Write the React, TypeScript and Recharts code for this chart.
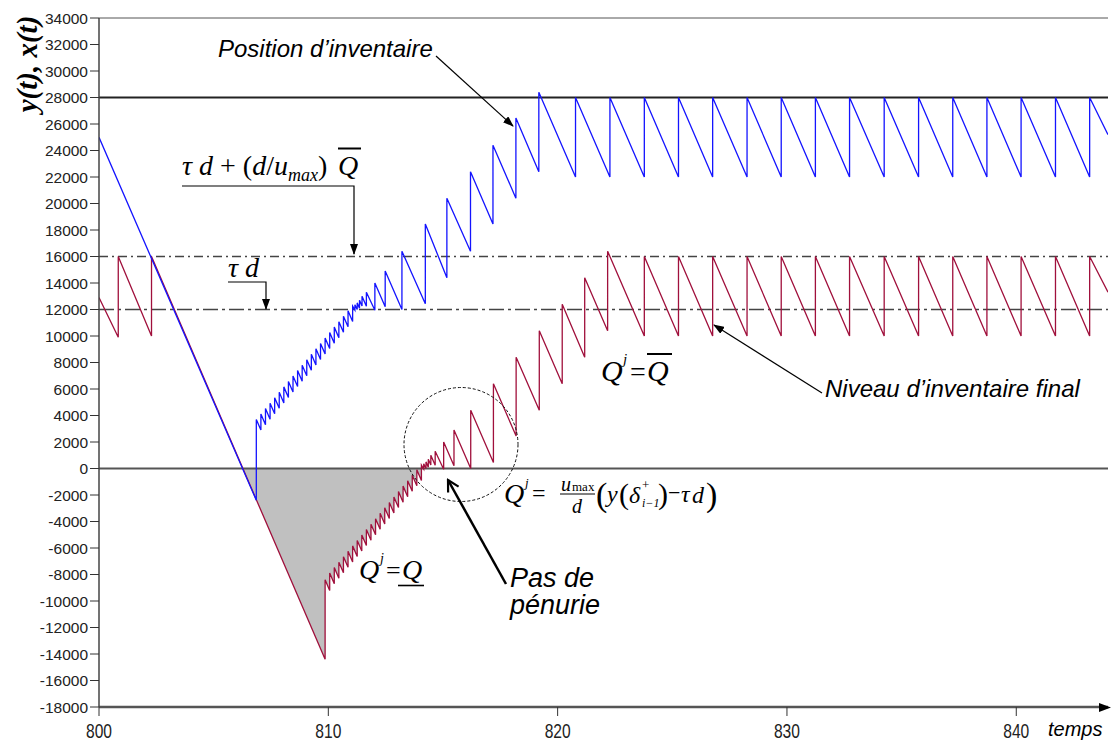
import React from 'react'
import {
  ComposedChart,
  Line,
  Area,
  XAxis,
  YAxis,
  ReferenceLine,
} from 'recharts'

// y(t): position d'inventaire (blue)
const positionPoints: [number, number][] = [
  [800, 25000], [806.86, -2400], [806.86, 3700],
  [807.06, 2900], [807.06, 4110],
  [807.26, 3310], [807.26, 4520],
  [807.46, 3720], [807.46, 4930],
  [807.66, 4130], [807.66, 5340],
  [807.86, 4540], [807.86, 5750],
  [808.06, 4950], [808.06, 6160],
  [808.26, 5360], [808.26, 6570],
  [808.46, 5770], [808.46, 6980],
  [808.66, 6180], [808.66, 7390],
  [808.86, 6590], [808.86, 7800],
  [809.06, 7000], [809.06, 8210],
  [809.26, 7410], [809.26, 8620],
  [809.46, 7820], [809.46, 9030],
  [809.66, 8230], [809.66, 9440],
  [809.86, 8640], [809.86, 9850],
  [810.06, 9050], [810.06, 10260],
  [810.26, 9460], [810.26, 10670],
  [810.46, 9870], [810.46, 11080],
  [810.66, 10280], [810.66, 11490],
  [810.86, 10690], [810.86, 11900],
  [811.06, 11100], [811.06, 12250],
  [811.16, 11950], [811.16, 12350],
  [811.26, 12000], [811.26, 12500],
  [811.36, 12100], [811.36, 12700],
  [811.47, 12260], [811.47, 13000],
  [811.66, 12240], [811.66, 13300],
  [812.03, 11950], [812.03, 14000],
  [812.48, 12200], [812.48, 14900],
  [813.21, 12000], [813.21, 16400],
  [814.23, 12430], [814.23, 18450],
  [815.17, 14400], [815.17, 20400],
  [816.2, 16400], [816.2, 22400],
  [817.18, 18450], [817.18, 24400],
  [818.18, 20400], [818.18, 26450],
  [819.18, 22400], [819.18, 28400],
  [820.78, 22000], [820.78, 28000],
  [822.28, 22000], [822.28, 28000],
  [823.78, 22000], [823.78, 28000],
  [825.27, 22000], [825.27, 28000],
  [826.76, 22000], [826.76, 28000],
  [828.26, 22000], [828.26, 28000],
  [829.75, 22000], [829.75, 28000],
  [831.24, 22000], [831.24, 28000],
  [832.73, 22000], [832.73, 28000],
  [834.24, 22000], [834.24, 28000],
  [835.74, 22000], [835.74, 28000],
  [837.23, 22000], [837.23, 28000],
  [838.72, 22000], [838.72, 28000],
  [840.21, 22000], [840.21, 28000],
  [841.71, 22000], [841.71, 28000],
  [843.2, 22000], [843.2, 28000],
  [844, 25200],
]

// x(t): niveau d'inventaire final (red)
const levelPoints: [number, number][] = [
  [800, 12900], [800.84, 9900], [800.84, 16000],
  [802.29, 10000], [802.29, 16000],
  [809.86, -14400], [809.86, -8400],
  [810.06, -9200], [810.06, -7890],
  [810.26, -8690], [810.26, -7480],
  [810.46, -8280], [810.46, -7070],
  [810.66, -7870], [810.66, -6660],
  [810.86, -7460], [810.86, -6250],
  [811.06, -7050], [811.06, -5840],
  [811.26, -6640], [811.26, -5430],
  [811.46, -6230], [811.46, -5020],
  [811.66, -5820], [811.66, -4610],
  [811.86, -5410], [811.86, -4200],
  [812.06, -5000], [812.06, -3790],
  [812.26, -4590], [812.26, -3380],
  [812.46, -4180], [812.46, -2970],
  [812.66, -3770], [812.66, -2560],
  [812.86, -3360], [812.86, -2150],
  [813.06, -2950], [813.06, -1740],
  [813.26, -2540], [813.26, -1330],
  [813.46, -2130], [813.46, -920],
  [813.66, -1720], [813.66, -510],
  [813.86, -1310], [813.86, -100],
  [814.06, -900], [814.06, 250],
  [814.16, -50], [814.16, 350],
  [814.26, 0], [814.26, 500],
  [814.36, 100], [814.36, 700],
  [814.47, 260], [814.47, 1000],
  [814.66, 240], [814.66, 1300],
  [815.03, -50], [815.03, 2000],
  [815.48, 200], [815.48, 2900],
  [816.21, 0], [816.21, 4400],
  [817.2, 450], [817.2, 6400],
  [818.19, 2450], [818.19, 8400],
  [819.2, 4400], [819.2, 10400],
  [820.2, 6400], [820.2, 12400],
  [821.18, 8400], [821.18, 14400],
  [822.18, 10400], [822.18, 16400],
  [823.78, 10000], [823.78, 16000],
  [825.27, 10000], [825.27, 16000],
  [826.76, 10000], [826.76, 16000],
  [828.26, 10000], [828.26, 16000],
  [829.75, 10000], [829.75, 16000],
  [831.24, 10000], [831.24, 16000],
  [832.73, 10000], [832.73, 16000],
  [834.24, 10000], [834.24, 16000],
  [835.74, 10000], [835.74, 16000],
  [837.23, 10000], [837.23, 16000],
  [838.72, 10000], [838.72, 16000],
  [840.21, 10000], [840.21, 16000],
  [841.71, 10000], [841.71, 16000],
  [843.2, 10000], [843.2, 16000],
  [844, 13300],
]

const shortageStart = 806.27
const shortageEnd = 814.06

const xTicks = [800, 810, 820, 830, 840]
const yTicks = [
  -18000, -16000, -14000, -12000, -10000, -8000, -6000, -4000, -2000, 0,
  2000, 4000, 6000, 8000, 10000, 12000, 14000, 16000, 18000, 20000, 22000,
  24000, 26000, 28000, 30000, 32000, 34000,
]

const positionMax = 28000
const reorderHigh = 16000 // tau d + (d/umax) Qbar
const reorderLow = 12000 // tau d

const toRows = (pts: [number, number][]) => pts.map(([t, v]) => ({ t, v }))

const positionData = toRows(positionPoints)
const levelData = toRows(levelPoints)
const shortageData = toRows([
  [shortageStart, 0],
  ...levelPoints
    .filter(([t]) => t >= 809.86 && t <= shortageEnd)
    .map(([t, v]) => [t, Math.min(v, 0)] as [number, number]),
  [shortageEnd, 0],
])

const SANS = "'Liberation Sans', Arial, sans-serif"
const SERIF = "'Liberation Serif', 'Times New Roman', serif"

// narrow, tall tick labels under the time axis
function TimeTick({ x, y, payload }: any) {
  return (
    <g transform={`translate(${x},${y})`}>
      <text
        transform="scale(0.78,1)"
        textAnchor="middle"
        dy="0.71em"
        fontSize={20}
        fontFamily={SANS}
        fill="#222"
      >
        {payload.value}
      </text>
    </g>
  )
}

function Annotations() {
  return (
    <svg
      width={1111}
      height={743}
      style={{ position: 'absolute', left: 0, top: 0, pointerEvents: 'none' }}
    >
      <defs>
        <marker id="ah" markerWidth="11" markerHeight="8" refX="10" refY="4" orient="auto" markerUnits="userSpaceOnUse">
          <path d="M0,0 L11,4 L0,8 z" fill="#000" />
        </marker>
        <marker id="open" markerWidth="14" markerHeight="14" refX="12" refY="7" orient="auto" markerUnits="userSpaceOnUse">
          <path d="M1,1 L12,7 L1,13" fill="none" stroke="#000" strokeWidth="2.2" />
        </marker>
      </defs>

      {/* y axis label */}
      <text
        transform="translate(37,64) rotate(-90)"
        textAnchor="middle"
        fontFamily={SERIF}
        fontWeight="bold"
        fontStyle="italic"
        fontSize={29}
        fill="#000"
      >
        y(t), x(t)
      </text>

      {/* x axis arrow + label */}
      <path d="M1099,703 L1111,707.5 L1099,712 z" fill="#000" />
      <text x={1048} y={736} fontFamily={SANS} fontStyle="italic" fontSize={20} fill="#000">
        temps
      </text>

      {/* Position d'inventaire */}
      <text x={218} y={57} fontFamily={SANS} fontStyle="italic" fontSize={24} fill="#000">
        Position d’inventaire
      </text>
      <line x1={436} y1={56} x2={513} y2={126} stroke="#000" strokeWidth={1.2} markerEnd="url(#ah)" />

      {/* tau d + (d/umax) Qbar */}
      <text x={182} y={175} fontFamily={SERIF} fontSize={28} fill="#000">
        <tspan fontStyle="italic">τ d</tspan> + (<tspan fontStyle="italic">d</tspan>/<tspan fontStyle="italic">u</tspan>
        <tspan fontStyle="italic" fontSize={18} dy={6}>max</tspan>
        <tspan dy={-6}>)</tspan>
      </text>
      <text x={338} y={175} fontFamily={SERIF} fontStyle="italic" fontSize={28} fill="#000">Q</text>
      <line x1={338} x2={361} y1={148.5} y2={148.5} stroke="#000" strokeWidth={2} />
      <polyline points="182,186 354,186 354,254" fill="none" stroke="#000" strokeWidth={1.2} markerEnd="url(#ah)" />

      {/* tau d */}
      <text x={228} y={277} fontFamily={SERIF} fontStyle="italic" fontSize={28} fill="#000">τ d</text>
      <polyline points="228,282 266,282 266,309" fill="none" stroke="#000" strokeWidth={1.2} markerEnd="url(#ah)" />

      {/* Q^j = Qbar */}
      <text x={601} y={381} fontFamily={SERIF} fontStyle="italic" fontSize={30} fill="#000">Q</text>
      <text x={623} y={364} fontFamily={SERIF} fontStyle="italic" fontSize={15} fill="#000">j</text>
      <text x={630} y={381} fontFamily={SERIF} fontSize={28} fill="#000">=</text>
      <text x={647} y={381} fontFamily={SERIF} fontStyle="italic" fontSize={30} fill="#000">Q</text>
      <line x1={647} x2={672} y1={354} y2={354} stroke="#000" strokeWidth={2} />

      {/* Niveau d'inventaire final */}
      <text x={825} y={397} fontFamily={SANS} fontStyle="italic" fontSize={24} fill="#000">
        Niveau d’inventaire final
      </text>
      <line x1={822} y1={393} x2={714} y2={325} stroke="#000" strokeWidth={1.2} markerEnd="url(#ah)" />

      {/* dashed circle */}
      <circle cx={461} cy={444.5} r={57} fill="none" stroke="#111" strokeWidth={1} strokeDasharray="3 2" />

      {/* Q^j = umax/d (y(delta) - tau d) */}
      <text x={504} y={503} fontFamily={SERIF} fontStyle="italic" fontSize={28} fill="#000">Q</text>
      <text x={525} y={487} fontFamily={SERIF} fontStyle="italic" fontSize={13} fill="#000">j</text>
      <text x={532} y={501} fontFamily={SERIF} fontSize={24} fill="#000">=</text>
      <text x={561} y={491} fontFamily={SERIF} fontStyle="italic" fontSize={20} fill="#000">u</text>
      <text x={572} y={491} fontFamily={SERIF} fontSize={13} fill="#000">max</text>
      <line x1={560} x2={595} y1={494} y2={494} stroke="#000" strokeWidth={1} />
      <text x={572} y={513} fontFamily={SERIF} fontStyle="italic" fontSize={20} fill="#000">d</text>
      <text x={596} y={506} fontFamily={SERIF} fontSize={34} fill="#000">(</text>
      <text x={607} y={502} fontFamily={SERIF} fontStyle="italic" fontSize={24} fill="#000">y</text>
      <text x={619} y={504} fontFamily={SERIF} fontSize={30} fill="#000">(</text>
      <text x={629} y={503} fontFamily={SERIF} fontStyle="italic" fontSize={24} fill="#000">δ</text>
      <text x={642} y={489} fontFamily={SERIF} fontSize={13} fill="#000">+</text>
      <text x={642} y={507} fontFamily={SERIF} fontStyle="italic" fontSize={12} fill="#000">i−1</text>
      <text x={658} y={504} fontFamily={SERIF} fontSize={30} fill="#000">)</text>
      <text x={668} y={500} fontFamily={SERIF} fontSize={22} fill="#000">−</text>
      <text x={681} y={502} fontFamily={SERIF} fontStyle="italic" fontSize={24} fill="#000">τ</text>
      <text x={692} y={503} fontFamily={SERIF} fontStyle="italic" fontSize={24} fill="#000">d</text>
      <text x={706} y={506} fontFamily={SERIF} fontSize={34} fill="#000">)</text>

      {/* Pas de penurie */}
      <text x={510} y={587} fontFamily={SANS} fontStyle="italic" fontSize={27} fill="#000">Pas de</text>
      <text x={510} y={614} fontFamily={SANS} fontStyle="italic" fontSize={27} fill="#000">pénurie</text>
      <line x1={506} y1={584} x2={448} y2={480} stroke="#000" strokeWidth={2.5} markerEnd="url(#open)" />

      {/* Q^j = Q underline */}
      <text x={359} y={579} fontFamily={SERIF} fontStyle="italic" fontSize={28} fill="#000">Q</text>
      <text x={380} y={563} fontFamily={SERIF} fontStyle="italic" fontSize={14} fill="#000">j</text>
      <text x={386} y={579} fontFamily={SERIF} fontSize={26} fill="#000">=</text>
      <text x={402} y={579} fontFamily={SERIF} fontStyle="italic" fontSize={28} fill="#000">Q</text>
      <line x1={398} x2={424} y1={585.5} y2={585.5} stroke="#000" strokeWidth={1.6} />
    </svg>
  )
}

export default function App() {
  return (
    <div style={{ position: 'absolute', left: 0, top: 0, width: 1111, height: 743, background: '#fff' }}>
      <ComposedChart
        width={1111}
        height={743}
        margin={{ top: 18, right: 3, bottom: 0, left: 0 }}
      >
        <XAxis
          type="number"
          dataKey="t"
          domain={[800, 844]}
          allowDataOverflow
          ticks={xTicks}
          interval={0}
          tickSize={9}
          tickMargin={8}
          height={36}
          stroke="#555"
          strokeWidth={2.5}
          tickLine={{ stroke: '#333', strokeWidth: 1 }}
          tick={<TimeTick />}
        />
        <YAxis
          type="number"
          domain={[-18000, 34000]}
          allowDataOverflow
          ticks={yTicks}
          interval={0}
          width={99}
          tickSize={9}
          tickMargin={2}
          stroke="#444"
          strokeWidth={1.5}
          tickLine={{ stroke: '#333', strokeWidth: 1 }}
          tick={{ fill: '#222', fontSize: 15.5, fontFamily: SANS }}
        />
        <Area
          data={shortageData}
          dataKey="v"
          type="linear"
          stroke="none"
          fill="#c0c0c0"
          fillOpacity={1}
          baseValue={0}
          isAnimationActive={false}
        />
        <ReferenceLine y={34000} stroke="#555" strokeWidth={1} />
        <ReferenceLine y={positionMax} stroke="#222" strokeWidth={2} />
        <ReferenceLine y={reorderHigh} stroke="#444" strokeWidth={1.6} strokeDasharray="9 4 2 4" />
        <ReferenceLine y={reorderLow} stroke="#444" strokeWidth={1.6} strokeDasharray="15 4 3 4" />
        <ReferenceLine y={0} stroke="#555" strokeWidth={2} />
        <Line
          data={levelData}
          dataKey="v"
          type="linear"
          stroke="#a0103c"
          strokeWidth={1.3}
          dot={false}
          isAnimationActive={false}
        />
        <Line
          data={positionData}
          dataKey="v"
          type="linear"
          stroke="#1414ff"
          strokeWidth={1.3}
          dot={false}
          isAnimationActive={false}
        />
      </ComposedChart>
      <Annotations />
    </div>
  )
}
